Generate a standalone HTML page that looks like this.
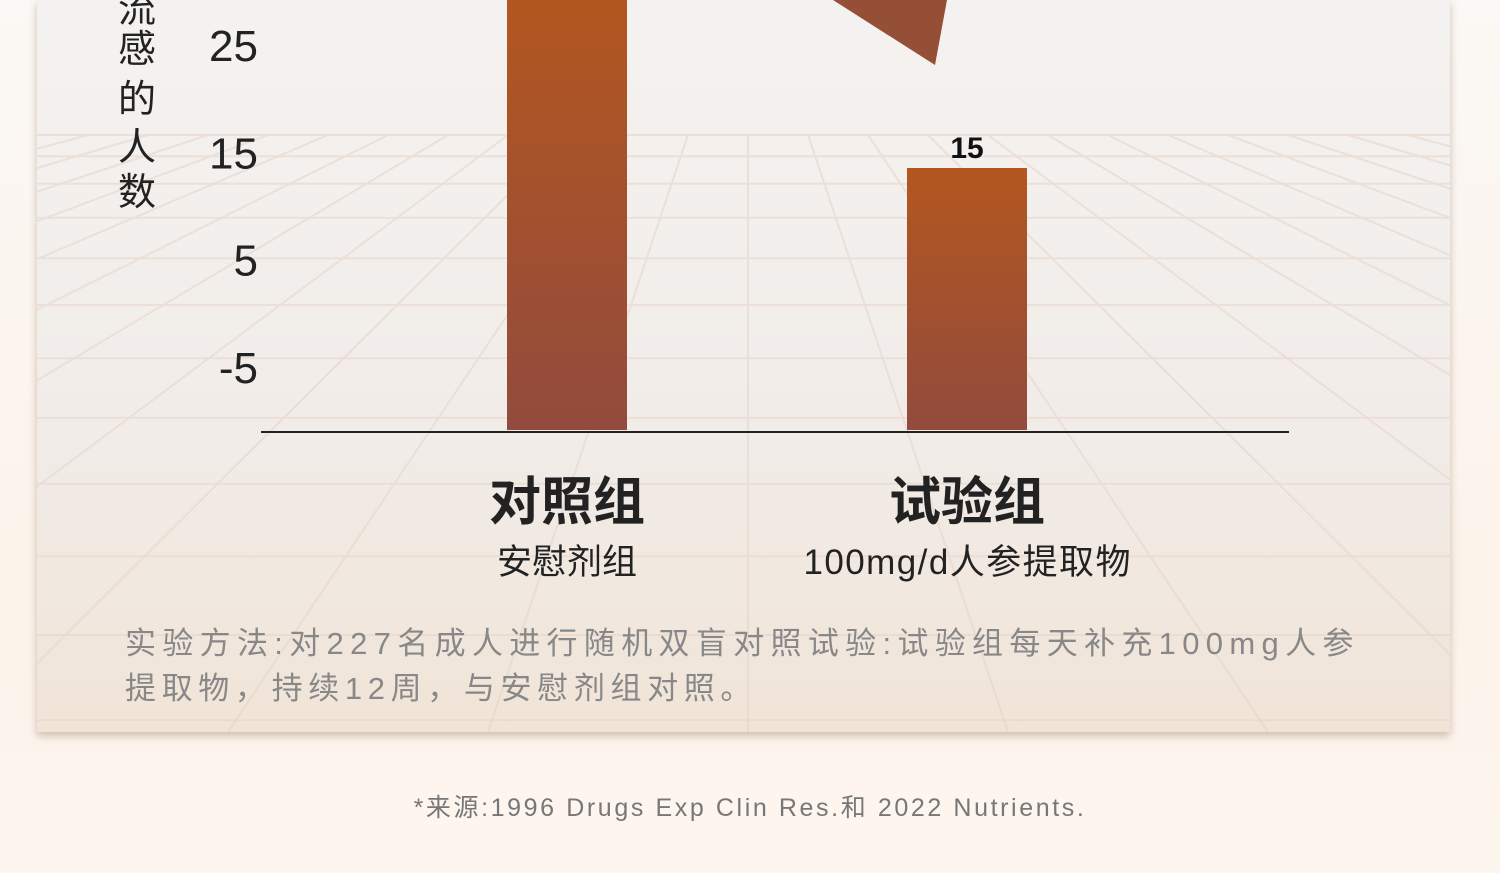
<!DOCTYPE html>
<html><head><meta charset="utf-8">
<style>
html,body{margin:0;padding:0}
body{width:1500px;height:873px;overflow:hidden;background:linear-gradient(#fbf8f5,#fcf3ea 70%,#fdf6ef);font-family:"Liberation Sans","Noto Sans CJK SC",sans-serif;position:relative}
#card{position:absolute;left:37px;top:0;width:1413px;height:732px;background:linear-gradient(180deg,#f4f2f0 0%,#f1ece8 60%,#f1e4d7 100%);box-shadow:0 4px 8px rgba(120,90,60,.35)}
svg{position:absolute;left:0;top:0}
.src{position:absolute;left:0;width:1500px;top:788px;text-align:center;font-size:25px;color:#777;letter-spacing:2.6px}
</style></head><body>
<div id="card"></div>
<svg id="chart" width="1500" height="873">
<defs><clipPath id="cc"><rect x="37" y="0" width="1413" height="732"/></clipPath>
<linearGradient id="bg" x1="0" y1="0" x2="0" y2="1"><stop offset="0" stop-color="#b3571f"/><stop offset="1" stop-color="#924b3d"/></linearGradient></defs>
<g id="grid" clip-path="url(#cc)" stroke="#e6d4c8" stroke-width="2" opacity="0.55"></g>
<polygon points="833,0 947,0 935,65" fill="#954f37"/>
<g id="bars"></g><g id="ticks"></g>
<line x1="261" y1="432" x2="1289" y2="432" stroke="#222" stroke-width="2"/>
<g font-size="38" fill="#222" text-anchor="middle">
<text x="137" y="22">流</text><text x="137" y="62">感</text><text x="137" y="112">的</text><text x="137" y="160">人</text><text x="137" y="205">数</text></g>
<g id="cats"></g>
<text x="125" y="654" font-size="31" fill="#888" letter-spacing="1.6" textLength="1230">实验方法:对227名成人进行随机双盲对照试验:试验组每天补充100mg人参</text>
<text x="125" y="699" font-size="31" fill="#888" letter-spacing="1.6" textLength="628">提取物，持续12周，与安慰剂组对照。</text>
</svg>
<div class="src">*来源:1996 Drugs Exp Clin Res.和 2022 Nutrients.</div>
<script>
const categories=["对照组","试验组"];
const subLabels=["安慰剂组","100mg/d人参提取物"];
const values=[30,15];
const showValue=[false,true];
const tickValues=[25,15,5,-5];
const tickLabels=["25","15","5","-5"];
const NS="http://www.w3.org/2000/svg";
function mk(t,a,p){const e=document.createElementNS(NS,t);for(const k in a)e.setAttribute(k,a[k]);p.appendChild(e);return e;}
function yBar(v){return 430-v*(262/15);}
function yTick(v){return 367-(v+5)*10.73;}
function xCenter(i){return 567+i*400;}
const grid=document.getElementById('grid');
for(let i=0;i<14;i++){const y=135+i*i*3.2+i*18;mk('line',{x1:37,y1:y,x2:1450,y2:y},grid);}
for(let i=-12;i<=12;i++){mk('line',{x1:748+i*60,y1:135,x2:748+i*260,y2:732},grid);}
const bars=document.getElementById('bars'),ticks=document.getElementById('ticks'),cats=document.getElementById('cats');
values.forEach((v,i)=>{
 const y=Math.max(yBar(v),-5);
 const r=mk('rect',{x:xCenter(i)-60,y:y,width:120,height:430-y,fill:'url(#bg)'},bars);
 
 
 if(showValue[i]){const t=mk('text',{x:xCenter(i),y:yBar(v)-10,'font-size':30,'font-weight':'bold','text-anchor':'middle',fill:'#111'},bars);t.textContent=v;
 
 }
 const c=mk('text',{x:xCenter(i),y:520,'font-size':52,'font-weight':'bold','text-anchor':'middle',fill:'#222'},cats);c.textContent=categories[i];
 
 
 const s=mk('text',{x:xCenter(i),y:574,'font-size':35,'text-anchor':'middle',fill:'#222'},cats);s.textContent=subLabels[i];
 if(i===1){s.setAttribute('textLength','327');}
 
 
});
tickValues.forEach((v,i)=>{
 const t=mk('text',{x:258,y:yTick(v)+16,'font-size':44,'text-anchor':'end',fill:'#222'},ticks);t.textContent=tickLabels[i];
 
 
});
</script>
</body></html>
